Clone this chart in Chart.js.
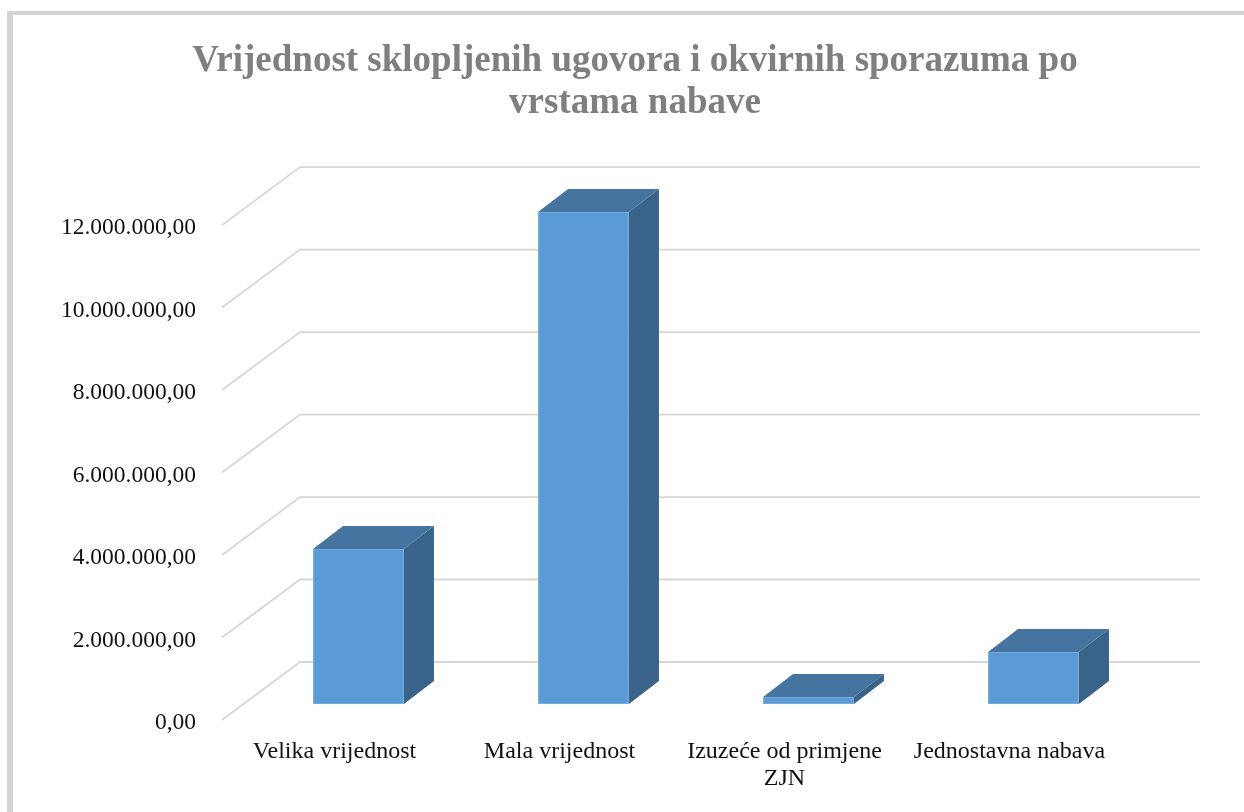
<!DOCTYPE html>
<html>
<head>
<meta charset="utf-8">
<script src="https://cdn.jsdelivr.net/npm/chart.js@4/dist/chart.umd.min.js"></script>
<style>
  html, body { margin: 0; padding: 0; background: #fff; overflow: hidden; }
  #frame { position: absolute; left: 7px; top: 11px; width: 1400px; height: 1000px;
           border-left: 6px solid #d4d4d4; border-top: 4px solid #d4d4d4; }
  #wrap { position: absolute; left: 0; top: 0; width: 1244px; height: 812px; }
</style>
</head>
<body>
<div id="frame"></div>
<div id="wrap"><canvas id="c" width="1244" height="812"></canvas></div>
<script>
// ---- data ----
const titleLines = ["Vrijednost sklopljenih ugovora i okvirnih sporazuma po", "vrstama nabave"];
const categories = ["Velika vrijednost", "Mala vrijednost", ["Izuzeće od primjene", "ZJN"], "Jednostavna nabava"];
const values = [3760000, 11930000, 170000, 1260000];
const yMin = 0;
const yMax = 12000000;
const yStep = 2000000;

// ---- style constants ----
const FRONT = '#5B9BD5', TOP = '#4574A0', SIDE = '#396389';
const WALL_DX = 78, WALL_DY = -58;     // full depth of the plot box
const BAR_OFF_X = 24, BAR_OFF_Y = -16; // bar front plane position inside depth
const BAR_DX = 30, BAR_DY = -23;       // bar depth
const SERIF = '"Liberation Serif", "Times New Roman", serif';

function fmt(v) {
  const s = Math.round(v).toString().replace(/\B(?=(\d{3})+(?!\d))/g, '.');
  return s + ',00';
}

const gridPlugin = {
  id: 'grid3d',
  beforeDatasetsDraw(chart) {
    const { ctx, chartArea } = chart;
    const ys = chart.scales.y;
    ctx.save();
    ctx.strokeStyle = '#d6d6d6';
    ctx.lineWidth = 1.8;
    ys.ticks.forEach(t => {
      const y = ys.getPixelForValue(t.value);
      ctx.beginPath();
      ctx.moveTo(chartArea.left, y);
      ctx.lineTo(chartArea.left + WALL_DX, y + WALL_DY);
      ctx.lineTo(chartArea.right + WALL_DX, y + WALL_DY);
      ctx.stroke();
    });
    ctx.restore();
  },
  beforeDatasetDraw(chart) {
    chart.ctx.save();
    chart.ctx.translate(BAR_OFF_X, BAR_OFF_Y);
  },
  afterDatasetDraw(chart, args) {
    const ctx = chart.ctx;
    args.meta.data.forEach(bar => {
      const p = bar.getProps(['x', 'y', 'base', 'width'], true);
      const x0 = p.x - p.width / 2, x1 = p.x + p.width / 2;
      const yT = Math.min(p.y, p.base), yB = Math.max(p.y, p.base);
      // top face
      ctx.fillStyle = TOP;
      ctx.beginPath();
      ctx.moveTo(x0, yT); ctx.lineTo(x1, yT);
      ctx.lineTo(x1 + BAR_DX, yT + BAR_DY); ctx.lineTo(x0 + BAR_DX, yT + BAR_DY);
      ctx.closePath(); ctx.fill();
      // side face
      ctx.fillStyle = SIDE;
      ctx.beginPath();
      ctx.moveTo(x1, yT); ctx.lineTo(x1 + BAR_DX, yT + BAR_DY);
      ctx.lineTo(x1 + BAR_DX, yB + BAR_DY); ctx.lineTo(x1, yB);
      ctx.closePath(); ctx.fill();
    });
    ctx.restore();
  }
};

new Chart(document.getElementById('c'), {
  type: 'bar',
  data: {
    labels: categories,
    datasets: [{
      data: values,
      backgroundColor: FRONT,
      borderColor: '#74abdc',
      borderWidth: 1,
      borderSkipped: false,
      categoryPercentage: 1,
      barPercentage: 0.404,
      clip: false
    }]
  },
  plugins: [gridPlugin],
  options: {
    responsive: false,
    animation: false,
    events: [],
    layout: { padding: { left: 26, right: 0, top: 0, bottom: 0 } },
    plugins: {
      legend: { display: false },
      tooltip: { enabled: false },
      title: {
        display: true,
        text: titleLines,
        color: '#7f7f7f',
        font: { family: SERIF, size: 37, weight: 'bold', lineHeight: 1.15 },
        padding: { top: 40, bottom: 100 }
      }
    },
    scales: {
      x: {
        grid: { display: false, drawTicks: false },
        border: { display: false },
        ticks: {
          color: '#111',
          padding: 19,
          maxRotation: 0,
          font: { family: SERIF, size: 24, lineHeight: 1.1 }
        },
        afterFit(s) { s.height = 92; }
      },
      y: {
        min: yMin, max: yMax,
        grid: { display: false, drawTicks: false },
        border: { display: false },
        ticks: {
          stepSize: yStep,
          color: '#111',
          padding: 26,
          labelOffset: 3,
          callback: v => fmt(v),
          font: { family: SERIF, size: 23.5 }
        },
        afterFit(s) { s.width = 196; }
      },
      yr: {
        position: 'right',
        display: true,
        grid: { display: false, drawTicks: false },
        border: { display: false },
        ticks: { display: false },
        afterFit(s) { s.width = 122; }
      }
    }
  }
});
</script>
</body>
</html>
